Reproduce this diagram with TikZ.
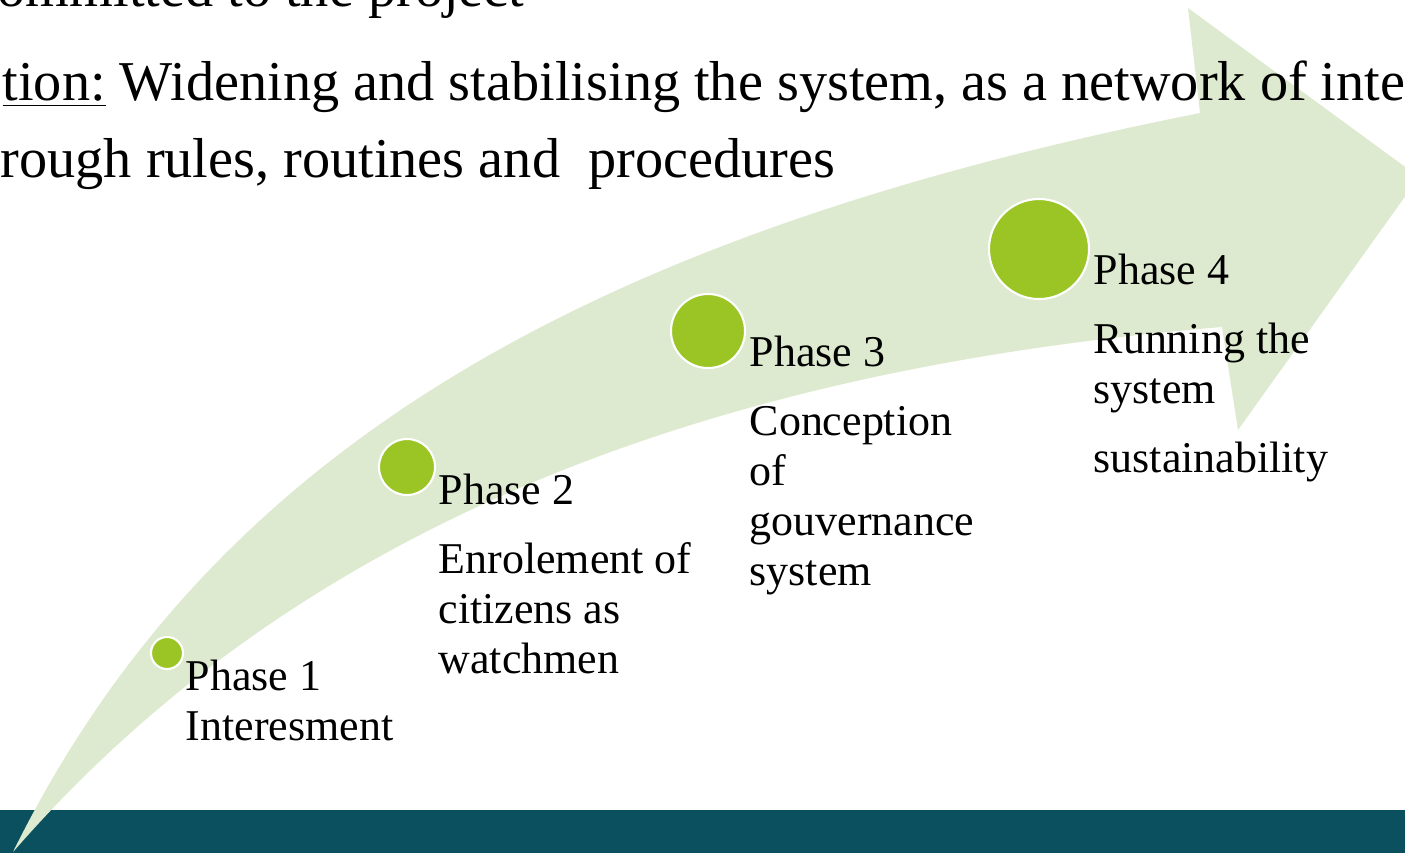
\documentclass[tikz,border=0pt]{standalone}
\usepackage{fontspec}
\setmainfont{Liberation Serif}
\definecolor{band}{RGB}{10,80,94}
\definecolor{arrowgreen}{RGB}{222,234,207}
\definecolor{dotgreen}{RGB}{154,197,37}
\tikzstyle{dot}=[circle,fill=dotgreen,draw=white,line width=0.6pt,inner sep=0pt]
\tikzstyle{lbl}=[anchor=base west,inner sep=0pt,align=left,font=\fontsize{12.5}{14.2}\selectfont]
\tikzstyle{topline}=[inner sep=0pt,font=\fontsize{16}{22}\selectfont]

\begin{document}
\begin{tikzpicture}[x=0.01cm,y=-0.01cm]
\useasboundingbox (0,0) rectangle (1405,853);
\clip (0,0) rectangle (1405,853);
\fill[band] (0,810) rectangle (1405,853);
\fill[arrowgreen] (13,852) .. controls (212,448) and (592,234) .. (1200,113)
  -- (1188,8) -- (1419,177) -- (1238,430) -- (1222,327)
  .. controls (664,373) and (276,550) .. (13,852) -- cycle;
\node[topline,anchor=base east] (line1) at (525,6) {committed to the project};
\node[topline,anchor=base west] (line2) at (2,100) {\underline{tion:} Widening and stabilising the system, as a network of inte};
\node[topline,anchor=base west] (line3) at (0,177) {rough rules, routines and \ procedures};
\node[dot,minimum size=0.32cm] (p1-dot) at (167,653) {};
\node[dot,minimum size=0.56cm] (p2-dot) at (407,467) {};
\node[dot,minimum size=0.74cm] (p3-dot) at (708,331) {};
\node[dot,minimum size=1.0cm] (p4-dot) at (1039,249) {};
\node[lbl] (p1-text) at (185,740) {Phase 1\\Interesment};
\node[lbl] (p2-text) at (438,673) {Phase 2\\[5.4pt]Enrolement of\\citizens as\\watchmen};
\node[lbl] (p3-text) at (749,585) {Phase 3\\[5.4pt]Conception\\of\\gouvernance\\system};
\node[lbl] (p4-text) at (1093,472) {Phase 4\\[5.4pt]Running the\\system\\[5.4pt]sustainability};
\end{tikzpicture}
\end{document}
